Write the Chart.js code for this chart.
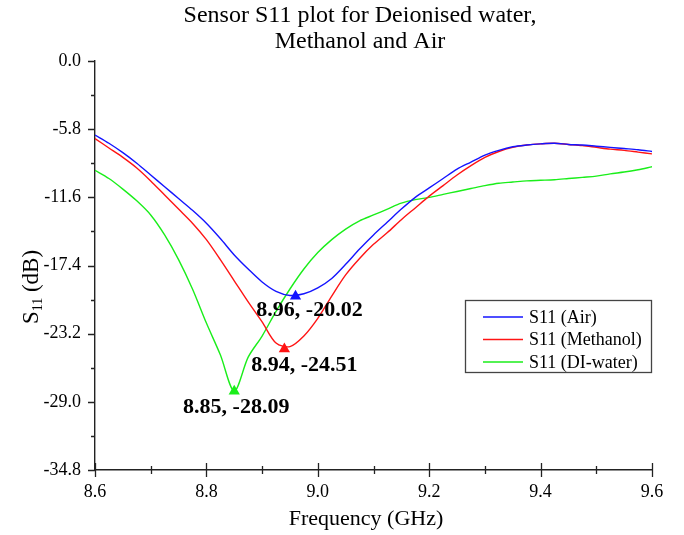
<!DOCTYPE html>
<html>
<head>
<meta charset="utf-8">
<script src="https://cdn.jsdelivr.net/npm/chart.js@4.4.1/dist/chart.umd.min.js"></script>
<style>
  html, body { margin: 0; padding: 0; background: #fff; }
  #wrap { width: 684px; height: 535px; }
</style>
</head>
<body>
<div id="wrap"><canvas id="myChart" width="684" height="535"></canvas></div>
<script>
// frequency grid (GHz)
const freq = [8.600, 8.625, 8.650, 8.675, 8.700, 8.725, 8.750, 8.775, 8.800, 8.825,
  8.850, 8.875, 8.900, 8.925, 8.950, 8.975, 9.000, 9.025, 9.050, 9.075,
  9.100, 9.125, 9.150, 9.175, 9.200, 9.225, 9.250, 9.275, 9.300, 9.325,
  9.350, 9.375, 9.400, 9.425, 9.450, 9.475, 9.500, 9.525, 9.550, 9.575, 9.600];

const s11Air = [-6.3, -7.0, -7.8, -8.7, -9.7, -10.7, -11.7, -12.7, -13.8, -15.1,
  -16.5, -17.7, -18.8, -19.6, -19.95, -19.8, -19.3, -18.5, -17.3, -16.0,
  -14.8, -13.7, -12.6, -11.6, -10.8, -10.0, -9.2, -8.6, -8.0, -7.6,
  -7.3, -7.15, -7.05, -7.0, -7.1, -7.15, -7.25, -7.35, -7.45, -7.55, -7.7];

const s11Methanol = [-6.6, -7.4, -8.2, -9.1, -10.2, -11.4, -12.6, -13.8, -15.2, -16.9,
  -18.7, -20.5, -22.2, -24.0, -24.3, -23.4, -21.9, -20.0, -18.2, -16.8,
  -15.6, -14.6, -13.5, -12.5, -11.5, -10.6, -9.7, -8.9, -8.2, -7.7,
  -7.35, -7.15, -7.05, -7.0, -7.1, -7.2, -7.35, -7.5, -7.6, -7.75, -7.9];

const s11Water = [-9.3, -10.0, -10.9, -11.9, -13.1, -14.8, -16.9, -19.4, -22.3, -25.0,
  -28.09, -25.2, -23.4, -21.3, -19.4, -17.7, -16.3, -15.2, -14.3, -13.6,
  -13.1, -12.6, -12.1, -11.8, -11.6, -11.35, -11.1, -10.85, -10.6, -10.4,
  -10.3, -10.2, -10.15, -10.1, -10.0, -9.9, -9.8, -9.6, -9.45, -9.25, -9.0];

const seriesNames = ["S11 (Air)", "S11 (Methanol)", "S11 (DI-water)"];
const seriesColors = ["#1414ff", "#ff1414", "#1aee1a"];

// resonance markers
const peakFreq = [8.96, 8.94, 8.85];
const peakVal = [-20.02, -24.51, -28.09];

const xTicks = [8.6, 8.8, 9.0, 9.2, 9.4, 9.6];
const yTicks = [0.0, -5.8, -11.6, -17.4, -23.2, -29.0, -34.8];

const titleLines = ["Sensor S11 plot for Deionised water,", "Methanol and Air"];
const xTitle = "Frequency (GHz)";

const serif = "'Liberation Serif', 'Times New Roman', serif";

const toPoints = (vals) => freq.map((f, i) => ({ x: f, y: vals[i] }));

const lineSets = [s11Air, s11Methanol, s11Water].map((vals, i) => ({
  label: seriesNames[i],
  data: toPoints(vals),
  borderColor: seriesColors[i],
  backgroundColor: seriesColors[i],
  borderWidth: 1.4,
  pointRadius: 0,
  tension: 0.3,
}));

const markerSets = peakFreq.map((f, i) => ({
  label: "peak" + i,
  data: [{ x: f, y: peakVal[i] }],
  showLine: false,
  pointStyle: "triangle",
  pointRadius: 6.5,
  borderWidth: 0,
  backgroundColor: seriesColors[i],
  borderColor: seriesColors[i],
}));

// where each peak label sits relative to its marker
const labelOffsets = [[14, 14], [20, 16], [2, 16]];

const extrasPlugin = {
  id: "extras",
  afterDraw(chart) {
    const ctx = chart.ctx;
    const xs = chart.scales.x;
    const ys = chart.scales.y;
    const area = chart.chartArea;
    ctx.save();

    // title
    ctx.fillStyle = "#000";
    ctx.font = "24px " + serif;
    ctx.textAlign = "center";
    ctx.textBaseline = "middle";
    ctx.fillText(titleLines[0], 360, 16);
    ctx.fillText(titleLines[1], 360, 42);

    // x axis title
    ctx.font = "22px " + serif;
    ctx.fillText(xTitle, 366, 519);

    // tick marks (major + minor)
    ctx.strokeStyle = "#222";
    ctx.lineWidth = 1.3;
    ctx.beginPath();
    for (let k = 0; k <= 10; k++) {
      const px = Math.round(xs.getPixelForValue(8.6 + k * 0.1)) + 0.5;
      const len = k % 2 === 0 ? 7 : 4;
      ctx.moveTo(px, area.bottom - len);
      ctx.lineTo(px, area.bottom + len);
    }
    for (let k = 0; k <= 12; k++) {
      const py = Math.round(ys.getPixelForValue(-k * 2.9)) + 0.5;
      const len = k % 2 === 0 ? 7 : 4;
      ctx.moveTo(area.left - len, py);
      ctx.lineTo(area.left, py);
    }
    ctx.stroke();

    // peak labels
    ctx.fillStyle = "#000";
    ctx.font = "bold 22px " + serif;
    peakFreq.forEach((f, i) => {
      const px = xs.getPixelForValue(f) + labelOffsets[i][0];
      const py = ys.getPixelForValue(peakVal[i]) + labelOffsets[i][1];
      ctx.fillText(f.toFixed(2) + ", " + peakVal[i].toFixed(2), px, py);
    });

    // legend box
    const lx = area.right - 187, ly = 300, lw = 186, lh = 72;
    ctx.strokeStyle = "#444";
    ctx.lineWidth = 1.3;
    ctx.strokeRect(lx + 0.5, ly + 0.5, lw, lh);
    ctx.font = "18px " + serif;
    ctx.textAlign = "left";
    seriesNames.forEach((name, i) => {
      const ry = ly + 17 + i * 22.5;
      ctx.strokeStyle = seriesColors[i];
      ctx.lineWidth = 1.4;
      ctx.beginPath();
      ctx.moveTo(lx + 18, ry);
      ctx.lineTo(lx + 58, ry);
      ctx.stroke();
      ctx.fillStyle = "#000";
      ctx.fillText(name, lx + 64, ry + 1);
    });

    // y axis title with subscript
    ctx.translate(30, 287);
    ctx.rotate(-Math.PI / 2);
    ctx.textBaseline = "alphabetic";
    const big = "23px " + serif, small = "14px " + serif;
    ctx.font = big;
    const wS = ctx.measureText("S").width;
    const wDb = ctx.measureText(" (dB)").width;
    ctx.font = small;
    const w11 = ctx.measureText("11").width;
    let cx = -(wS + w11 + wDb) / 2;
    ctx.fillStyle = "#000";
    ctx.font = big;
    ctx.fillText("S", cx, 8);
    cx += wS;
    ctx.font = small;
    ctx.fillText("11", cx, 12);
    cx += w11;
    ctx.font = big;
    ctx.fillText(" (dB)", cx, 8);

    ctx.restore();
  },
};

const ctx = document.getElementById("myChart").getContext("2d");
const myChart = new Chart(ctx, {
  type: "line",
  data: { datasets: [...lineSets, ...markerSets] },
  options: {
    responsive: false,
    animation: false,
    layout: { padding: { left: 0, right: 32, top: 61, bottom: 0 } },
    plugins: {
      legend: { display: false },
      tooltip: { enabled: false },
      title: { display: false },
    },
    scales: {
      x: {
        type: "linear",
        min: 8.6,
        max: 9.6,
        afterFit: (scale) => { scale.height = 65; },
        afterBuildTicks: (scale) => { scale.ticks = xTicks.map((v) => ({ value: v })); },
        grid: { display: false, drawTicks: false },
        border: { display: true, color: "#222", width: 1.4 },
        ticks: {
          color: "#000",
          padding: 11,
          font: { family: serif, size: 18 },
          callback: (v) => Number(v).toFixed(1),
        },
        title: { display: false },
      },
      y: {
        type: "linear",
        min: -34.8,
        max: 0,
        afterFit: (scale) => { scale.width = 95; },
        afterBuildTicks: (scale) => { scale.ticks = yTicks.map((v) => ({ value: v })); },
        grid: { display: false, drawTicks: false },
        border: { display: true, color: "#222", width: 1.4 },
        ticks: {
          color: "#000",
          padding: 14,
          font: { family: serif, size: 18 },
          callback: (v) => (Math.abs(v) < 1e-9 ? "0.0" : Number(v).toFixed(1)),
        },
        title: { display: false },
      },
    },
  },
  plugins: [extrasPlugin],
});
</script>
</body>
</html>
